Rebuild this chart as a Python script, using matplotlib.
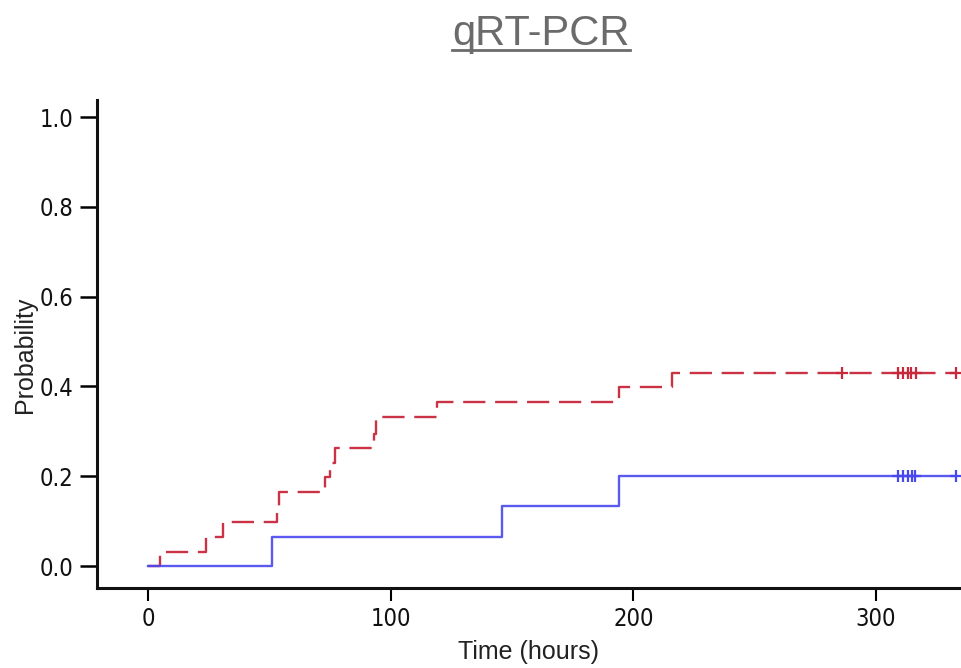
import matplotlib
matplotlib.use("Agg")
import matplotlib.pyplot as plt
from matplotlib.lines import Line2D
from matplotlib import font_manager as fm

# ---- data ----
red_times = [0, 5, 24, 31, 53, 54, 73, 75, 77, 93, 94, 119, 194, 216, 333]
red_probs = [0, 0.032, 0.065, 0.097, 0.130, 0.165, 0.198, 0.230, 0.262, 0.295, 0.333, 0.366, 0.398, 0.430, 0.430]
red_censor_t = [286, 309, 311, 313, 314.5, 316.5, 333]

blue_times = [0, 51, 146, 194, 333]
blue_probs = [0, 0.064, 0.134, 0.200, 0.200]
blue_censor_t = [309, 311, 313, 315, 316, 333]

x_ticks = [0, 100, 200, 300]
y_ticks = [0.0, 0.2, 0.4, 0.6, 0.8, 1.0]

title = "qRT-PCR"
xlabel = "Time (hours)"
ylabel = "Probability"

RED = "#C8283C"
BLUE = "#4848F0"

plt.rcParams['lines.scale_dashes'] = False

# condensed font for the tick labels if one is available
cond_fp = None
for f in fm.fontManager.ttflist:
    if "Narrow" in f.name or "Condensed" in f.fname and "DejaVuSans" in f.fname and "Bold" not in f.fname and "Oblique" not in f.fname:
        cond_fp = fm.FontProperties(fname=f.fname, size=17)
        break
if cond_fp is None:
    cond_fp = fm.FontProperties(family=["DejaVu Sans"], size=16, stretch="condensed")

fig = plt.figure(figsize=(9.61, 6.68), dpi=100)
ax = fig.add_axes([97/961, 80/668, (961-97)/961, (588-100)/668])

ax.step(red_times, red_probs, where="post", color=RED, lw=1.7,
        dashes=(16, 7), alpha=0.95)
ax.step(blue_times, blue_probs, where="post", color=BLUE, lw=1.7, alpha=0.9)


def val_at(times, probs, t):
    v = probs[0]
    for ti, pi in zip(times, probs):
        if ti <= t:
            v = pi
    return v


ax.plot(red_censor_t, [val_at(red_times, red_probs, t) for t in red_censor_t],
        ls="none", marker="+", ms=9, mew=1.6, color=RED)
ax.plot(blue_censor_t, [val_at(blue_times, blue_probs, t) for t in blue_censor_t],
        ls="none", marker="+", ms=9, mew=1.6, color=BLUE)

ax.set_xlim(-21, 335)
ax.set_ylim(-0.049, 1.038)
ax.spines["top"].set_visible(False)
ax.spines["right"].set_visible(False)
for s in ("left", "bottom"):
    ax.spines[s].set_linewidth(2.2)
    ax.spines[s].set_color("#111111")

ax.set_xticks(x_ticks)
ax.set_xticklabels([str(v) for v in x_ticks])
ax.set_yticks(y_ticks)
ax.set_yticklabels([f"{v:.1f}" for v in y_ticks])

for lab in ax.get_xticklabels() + ax.get_yticklabels():
    lab.set_fontproperties(cond_fp)
    lab.set_color("#111111")

ax.tick_params(axis="y", length=12, width=1.8, pad=5, direction="out")
ax.tick_params(axis="x", length=9, width=1.5, pad=5, direction="out")

ax.set_xlabel(xlabel, fontsize=18, family=["Liberation Sans", "DejaVu Sans"],
              color="#222222", labelpad=6)
fig.text(25/961, 1 - 355/668, ylabel, rotation=90, ha="center", va="center",
         fontsize=18, family=["Liberation Sans", "DejaVu Sans"], color="#222222")

t = fig.text(541/961, 1 - 45/668, title, ha="center", va="baseline",
             fontsize=30, family=["Liberation Sans", "DejaVu Sans"], color="#6B6B6B")
fig.canvas.draw()
bb = t.get_window_extent()
uy = (668 - 50) / 668
fig.add_artist(Line2D([bb.x0 / 961, bb.x1 / 961], [uy, uy], transform=fig.transFigure,
                      color="#6B6B6B", lw=2))

fig.savefig("out.png", dpi=100)
